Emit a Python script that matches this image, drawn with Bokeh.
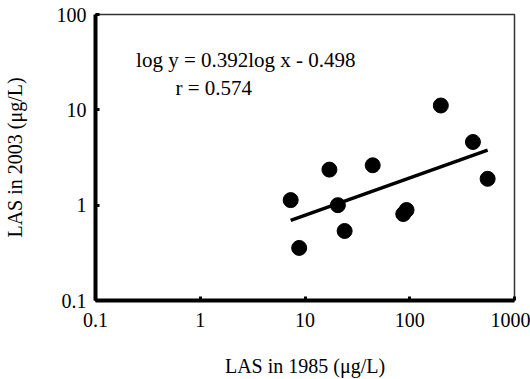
from bokeh.plotting import figure
from bokeh.models import Label, FixedTicker
from bokeh.embed import file_html
from bokeh.resources import INLINE
import numpy as np

# LAS concentrations (ug/L)
las_1985 = [7.3, 8.8, 17.1, 20.6, 23.9, 44.3, 86.7, 93.2, 198, 401, 554]
las_2003 = [1.13, 0.356, 2.36, 1.0, 0.536, 2.62, 0.807, 0.889, 11.1, 4.6, 1.89]

slope = 0.392
intercept = -0.498
r_value = 0.574

x_ticks = [0.1, 1, 10, 100, 1000]
y_ticks = [0.1, 1, 10, 100]

FONT = "Liberation Serif"

p = figure(width=530, height=379, x_axis_type="log", y_axis_type="log",
           x_range=(0.1, 1000), y_range=(0.1, 100),
           output_backend="svg", toolbar_location=None,
           min_border_left=91, min_border_right=16,
           min_border_top=14, min_border_bottom=79)

p.background_fill_color = "white"
p.border_fill_color = "white"
p.outline_line_color = "#333333"
p.outline_line_width = 1.5
p.grid.visible = False

for ax, ticks in ((p.xaxis[0], x_ticks), (p.yaxis[0], y_ticks)):
    ax.ticker = FixedTicker(ticks=ticks)
    ax.minor_tick_line_color = None
    ax.major_tick_in = 4
    ax.major_tick_out = 0
    ax.major_tick_line_width = 3
    ax.major_tick_line_color = "black"
    ax.axis_line_width = 4
    ax.axis_line_color = "black"
    ax.major_label_text_font = FONT
    ax.major_label_text_font_size = "20px"
    ax.major_label_text_color = "black"
    ax.axis_label_text_font = FONT
    ax.axis_label_text_font_size = "20px"
    ax.axis_label_text_font_style = "normal"
    ax.axis_label_text_color = "black"

p.xaxis[0].major_label_overrides = {0.1: "0.1", 1: "1", 10: "10", 100: "100", 1000: "1000"}
p.yaxis[0].major_label_overrides = {0.1: "0.1", 1: "1", 10: "10", 100: "100"}

p.xaxis.axis_label = "LAS in 1985 (μg/L)"
p.yaxis.axis_label = "LAS in 2003 (μg/L)"
p.xaxis.major_label_standoff = 12
p.xaxis.axis_label_standoff = 25
p.yaxis.major_label_standoff = 9
p.yaxis.axis_label_standoff = 28

# regression line over the data span
xl = np.array([min(las_1985), max(las_1985)])
yl = 10 ** (slope * np.log10(xl) + intercept)
p.line(xl, yl, line_color="black", line_width=3.5)

p.scatter(las_1985, las_2003, size=15, fill_color="black", line_color="black")

p.add_layout(Label(x=0.244, y=33, text=f"log y = {slope}log x - {intercept * -1}",
                   text_font=FONT, text_font_size="21px", text_color="black",
                   text_baseline="alphabetic"))
p.add_layout(Label(x=0.58, y=16.9, text=f"r = {r_value}",
                   text_font=FONT, text_font_size="21px", text_color="black",
                   text_baseline="alphabetic"))

open("out.html", "w").write(file_html(p, INLINE))
